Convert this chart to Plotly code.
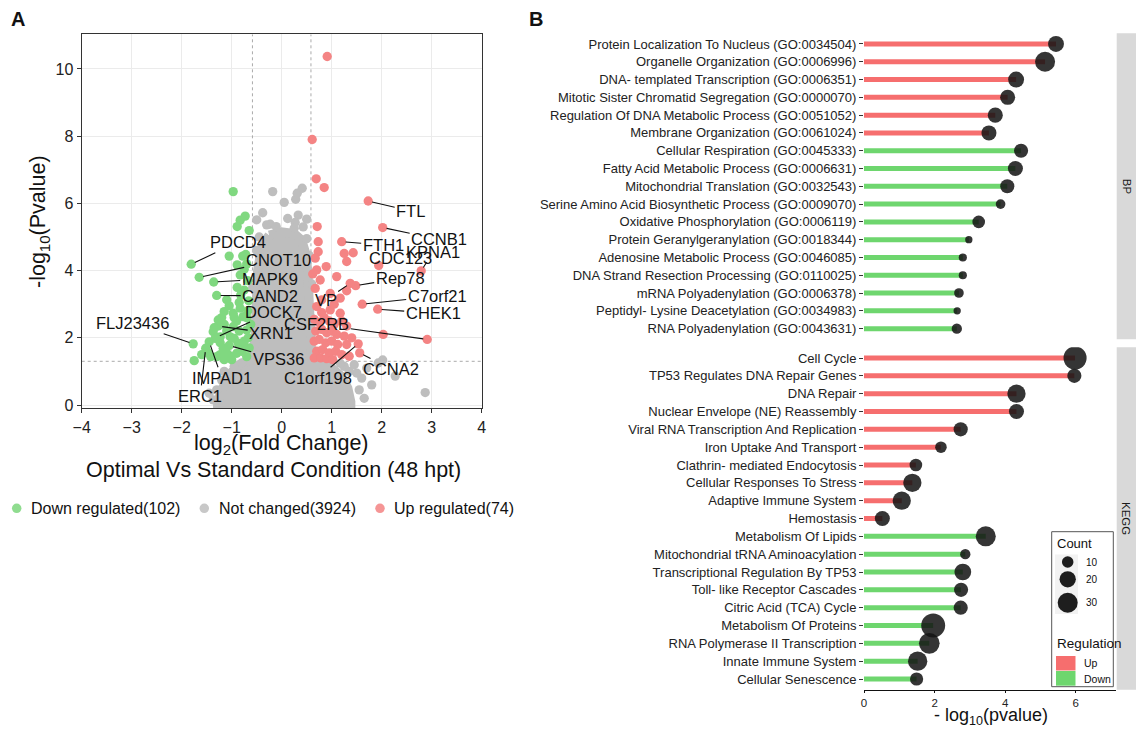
import math
import plotly.graph_objects as go

W, H = 1136, 730
FONT = "Liberation Sans, Arial, sans-serif"


def px(x):
    return x / W


def py(y):
    return 1 - y / H


# ---------------- Volcano data (panel A) ----------------
down_x = [-0.97, -0.73, -0.83, -0.89, -0.65, -1.05, -0.78, -0.89, -0.75, -0.72, -0.70,
          -1.81, -1.65, -1.36, -1.30,
          -0.83, -0.89, -0.75, -0.82, -1.10, -0.68, -0.66, -1.15, -0.97, -0.83, -0.70, -1.27, -1.05,
          -1.37, -1.27, -1.31, -1.23, -1.15, -1.10, -1.03, -0.97, -0.90, -0.85, -0.77, -0.70, -0.67,
          -0.75, -0.87, -0.95, -1.05, -1.17, -1.23, -1.45, -1.52, -1.47, -1.42, -1.30, -1.23, -1.10,
          -1.03, -0.90, -0.80, -0.70, -0.77, -0.65, -0.62, -0.95, -1.00, -1.15, -1.77, -1.75, -1.60,
          -0.68, -0.85, -1.20, -1.35, -1.33]
down_y = [6.35, 5.62, 5.50, 5.31, 5.19, 4.43, 4.43, 4.17, 4.04, 4.48, 4.20,
          4.19, 3.80, 3.66, 3.26,
          3.87, 3.50, 3.42, 3.27, 3.13, 3.70, 3.10, 2.78, 2.73, 2.88, 2.60, 2.53, 2.95,
          2.18, 2.35, 2.01, 2.03, 2.40, 2.20, 2.03, 2.33, 2.50, 2.20, 2.63, 2.23, 2.00,
          1.90, 1.84, 1.98, 1.77, 1.69, 1.85, 1.88, 1.69, 1.55, 1.44, 1.44, 1.50, 1.55,
          1.45, 1.54, 1.60, 1.44, 1.72, 1.70, 2.40, 2.60, 1.35, 1.35, 1.82, 1.32, 1.50,
          2.80, 3.05, 2.60, 2.30, 1.98]

up_x = [0.91, 0.61, 0.69, 0.85, 1.73, 2.02, 0.71, 0.73, 1.20, 1.43, 1.25, 1.30, 0.73, 0.67,
        0.89, 0.70, 1.10, 1.94, 2.79, 1.48, 1.37, 0.77, 0.67, 0.97, 1.17, 0.80, 1.61, 1.92,
        0.70, 0.97, 1.17, 2.03, 2.91, 1.53, 1.56,
        0.65, 0.75, 0.85, 0.95, 1.05, 1.20, 1.30, 0.68, 0.80, 0.90, 1.00, 1.10, 1.25, 0.65,
        0.75, 0.88, 1.00, 1.12, 1.30, 0.70, 0.82, 0.95, 1.08, 1.20, 0.65, 0.78, 0.90, 1.02,
        1.35, 1.40, 0.80, 1.05, 1.30, 0.62]
up_y = [10.37, 7.90, 6.73, 6.47, 6.07, 5.28, 5.31, 4.86, 4.86, 4.53, 4.51, 4.27, 4.56, 4.37,
        4.12, 4.02, 3.82, 4.15, 3.99, 3.55, 3.62, 3.72, 3.47, 3.32, 3.18, 3.13, 3.00, 2.85,
        2.93, 2.83, 2.73, 2.10, 1.95, 1.82, 1.55,
        2.55, 2.45, 2.60, 2.50, 2.40, 2.50, 2.35, 2.20, 2.25, 2.15, 2.20, 2.10, 2.05, 1.90,
        1.95, 1.85, 1.90, 1.80, 1.80, 1.60, 1.65, 1.55, 1.60, 1.50, 1.40, 1.40, 1.38, 1.35,
        1.45, 2.00, 2.75, 3.00, 3.40, 3.90]

# outline of the dense "not changed" cloud (marker centres along its edge)
core_x = [-0.25, 0.00, 0.25, 0.40, 0.48, 0.52, 0.55, 0.56, 0.60, 0.75, 1.00, 1.20, 1.32, 1.38,
          1.38, -1.28, -1.28, -1.18, -1.05, -0.85, -0.60, -0.53, -0.52, -0.48, -0.42, -0.35, -0.25]
core_y = [5.05, 5.15, 5.10, 4.90, 4.50, 4.00, 3.00, 2.00, 1.40, 1.25, 1.10, 0.85, 0.50, 0.10,
          0.00, 0.00, 0.10, 0.50, 0.90, 1.20, 1.35, 2.00, 3.00, 4.00, 4.50, 4.85, 5.05]

gray_x = [-0.18, 0.05, 0.28, 0.31, 0.41, -0.38, -0.50, -0.23, 0.33, 0.50, 0.27, -0.30, -0.11,
          0.25, 0.43, -0.45, 0.50, -0.50, 0.55, 0.12, 0.60, 0.58, -0.58, -0.55,
          2.87, 2.27, 2.02, 1.93, 1.70, 1.60, 1.55, 1.80, 1.45, 1.25, 1.50, 1.65, 1.17, 1.35,
          -1.20, -1.37, -1.03, -1.30, -0.95, -1.15, -1.45, -0.80]
gray_y = [6.35, 6.03, 6.12, 6.30, 6.45, 5.72, 5.51, 5.38, 5.65, 5.53, 5.43, 5.36, 5.31,
          5.26, 5.30, 5.00, 4.95, 4.60, 4.45, 5.55, 3.60, 2.60, 3.50, 2.50,
          0.37, 0.86, 1.34, 1.25, 1.10, 0.80, 0.45, 0.60, 1.20, 1.15, 0.95, 0.20, 1.24, 1.00,
          0.74, 0.15, 0.94, 0.45, 1.15, 1.00, 0.35, 1.25]

label_genes = ["FTL", "CCNB1", "FTH1", "KPNA1", "CDC123", "Rep78", "VP", "C7orf21", "CHEK1",
               "CSF2RB", "C1orf198", "CCNA2", "PDCD4", "CNOT10", "MAPK9", "CAND2", "DOCK7",
               "XRN1", "VPS36", "FLJ23436", "IMPAD1", "ERC1"]
label_px = [1.73, 2.02, 1.20, 2.79, 1.94, 1.48, 1.37, 1.61, 1.92, 2.91, 1.53, 1.56, -1.81,
            -1.65, -1.36, -1.30, -1.31, -1.27, -1.05, -1.77, -1.45, -1.52]
label_py = [6.07, 5.28, 4.86, 3.99, 4.15, 3.55, 3.62, 3.00, 2.85, 1.95, 1.82, 1.55, 4.19,
            3.80, 3.66, 3.26, 2.01, 2.35, 1.77, 1.82, 1.88, 1.69]

legend_labels = ["Down regulated(102)", "Not changed(3924)", "Up regulated(74)"]

# ---------------- Enrichment data (panel B) ----------------
bp_terms = ["Protein Localization To Nucleus (GO:0034504)",
            "Organelle Organization (GO:0006996)",
            "DNA- templated Transcription (GO:0006351)",
            "Mitotic Sister Chromatid Segregation (GO:0000070)",
            "Regulation Of DNA Metabolic Process (GO:0051052)",
            "Membrane Organization (GO:0061024)",
            "Cellular Respiration (GO:0045333)",
            "Fatty Acid Metabolic Process (GO:0006631)",
            "Mitochondrial Translation (GO:0032543)",
            "Serine Amino Acid Biosynthetic Process (GO:0009070)",
            "Oxidative Phosphorylation (GO:0006119)",
            "Protein Geranylgeranylation (GO:0018344)",
            "Adenosine Metabolic Process (GO:0046085)",
            "DNA Strand Resection Processing (GO:0110025)",
            "mRNA Polyadenylation (GO:0006378)",
            "Peptidyl- Lysine Deacetylation (GO:0034983)",
            "RNA Polyadenylation (GO:0043631)"]
bp_values = [5.44, 5.13, 4.31, 4.07, 3.72, 3.54, 4.45, 4.29, 4.06, 3.87, 3.25, 2.97, 2.80,
             2.80, 2.69, 2.64, 2.63]
bp_counts = [19, 30, 19, 17, 17, 17, 15, 17, 15, 7, 12, 4, 5, 5, 7, 4, 8]
bp_regulation = ["Up"] * 6 + ["Down"] * 11

kegg_terms = ["Cell Cycle", "TP53 Regulates DNA Repair Genes", "DNA Repair",
              "Nuclear Envelope (NE) Reassembly", "Viral RNA Transcription And Replication",
              "Iron Uptake And Transport", "Clathrin- mediated Endocytosis",
              "Cellular Responses To Stress", "Adaptive Immune System", "Hemostasis",
              "Metabolism Of Lipids", "Mitochondrial tRNA Aminoacylation",
              "Transcriptional Regulation By TP53", "Toll- like Receptor Cascades",
              "Citric Acid (TCA) Cycle", "Metabolism Of Proteins",
              "RNA Polymerase II Transcription", "Innate Immune System", "Cellular Senescence"]
kegg_values = [5.98, 5.96, 4.32, 4.32, 2.74, 2.18, 1.47, 1.37, 1.07, 0.52, 3.45, 2.87, 2.80,
               2.75, 2.74, 1.96, 1.85, 1.52, 1.49]
kegg_counts = [40, 15, 25, 17, 15, 10, 12, 25, 25, 17, 30, 8, 21, 15, 15, 43, 32, 28, 13]
kegg_regulation = ["Up"] * 10 + ["Down"] * 9

count_legend = [10, 20, 30]

# ---------------- styles ----------------
GREEN = "#80D880"
RED = "#F48484"
GRAY = "#BEBEBE"
LINE_UP = "#F66E6E"
LINE_DOWN = "#6ED66E"
DOT = "rgba(20,20,20,0.86)"
MS = 9.3


def dot_size(c):
    return 3.65 * math.sqrt(c)


fig = go.Figure()

# Volcano traces
fig.add_trace(go.Scatter(x=core_x, y=core_y, mode="lines", fill="toself", fillcolor=GRAY,
                         line=dict(color=GRAY, width=MS), hoverinfo="skip",
                         xaxis="x", yaxis="y"))
fig.add_trace(go.Scatter(x=gray_x, y=gray_y, mode="markers",
                         marker=dict(color=GRAY, size=MS, opacity=1, line=dict(width=0)),
                         xaxis="x", yaxis="y"))
fig.add_trace(go.Scatter(x=down_x, y=down_y, mode="markers",
                         marker=dict(color=GREEN, size=MS, opacity=1, line=dict(width=0)),
                         xaxis="x", yaxis="y"))
fig.add_trace(go.Scatter(x=up_x, y=up_y, mode="markers",
                         marker=dict(color=RED, size=MS, opacity=1, line=dict(width=0)),
                         xaxis="x", yaxis="y"))


def lollipop(values, regs, counts, xa, ya):
    for reg, col in (("Up", LINE_UP), ("Down", LINE_DOWN)):
        xs, ys = [], []
        for i, (v, r) in enumerate(zip(values, regs)):
            if r == reg:
                xs += [0, v, None]
                ys += [i + 1, i + 1, None]
        fig.add_trace(go.Scatter(x=xs, y=ys, mode="lines", line=dict(color=col, width=5),
                                 xaxis=xa, yaxis=ya, hoverinfo="skip"))
    fig.add_trace(go.Scatter(x=values, y=list(range(1, len(values) + 1)), mode="markers",
                             marker=dict(color=DOT, opacity=1,
                                         size=[dot_size(c) for c in counts],
                                         line=dict(width=0)),
                             xaxis=xa, yaxis=ya))


lollipop(bp_values, bp_regulation, bp_counts, "x2", "y2")
lollipop(kegg_values, kegg_regulation, kegg_counts, "x3", "y3")

# ---------------- layout ----------------
tickfont_a = dict(family=FONT, size=16, color="#222")
tickfont_b = dict(family=FONT, size=13, color="#222")

layout = dict(
    width=W, height=H, autosize=False, showlegend=False,
    margin=dict(l=0, r=0, t=0, b=0, pad=0, autoexpand=False),
    paper_bgcolor="white", plot_bgcolor="white",
    font=dict(family=FONT, color="#111"),
    xaxis=dict(domain=[px(81.7), px(481.7)], range=[-4, 4], anchor="y", automargin=False,
               tickvals=[-4, -3, -2, -1, 0, 1, 2, 3, 4], ticks="outside", ticklen=4,
               tickcolor="#333", showgrid=True, gridcolor="#EBEBEB", gridwidth=1,
               zeroline=False, showline=True, linecolor="#333", linewidth=1.2, mirror=True,
               tickfont=tickfont_a),
    yaxis=dict(domain=[py(408.3), py(34.3)], range=[-0.098, 11.03], anchor="x",
               automargin=False,
               tickvals=[0, 2, 4, 6, 8, 10], ticks="outside", ticklen=4, tickcolor="#333",
               showgrid=True, gridcolor="#EBEBEB", gridwidth=1, zeroline=False,
               showline=True, linecolor="#333", linewidth=1.2, mirror=True,
               tickfont=tickfont_a),
    xaxis2=dict(domain=[px(864), px(1116)], range=[0, 7.14], anchor="y2", automargin=False,
                showticklabels=False, showgrid=False, zeroline=False, showline=False),
    yaxis2=dict(domain=[py(339.3), py(33.3)], range=[17.6, 0.4], anchor="x2",
                automargin=False,
                tickvals=list(range(1, len(bp_terms) + 1)), ticktext=bp_terms,
                ticks="outside", ticklen=4, tickcolor="#333", showgrid=False,
                zeroline=False, showline=False, tickfont=tickfont_b),
    xaxis3=dict(domain=[px(864), px(1116)], range=[0, 7.14], anchor="y3", automargin=False,
                tickvals=[0, 2, 4, 6], ticks="outside", ticklen=2, tickcolor="#111",
                showgrid=False, zeroline=False, showline=True, linecolor="#111",
                linewidth=1.2, tickfont=dict(family=FONT, size=11.5, color="#222")),
    yaxis3=dict(domain=[py(689.7), py(347.3)], range=[19.6, 0.4], anchor="x3",
                automargin=False,
                tickvals=list(range(1, len(kegg_terms) + 1)), ticktext=kegg_terms,
                ticks="outside", ticklen=4, tickcolor="#333", showgrid=False,
                zeroline=False, showline=False, tickfont=tickfont_b),
)
fig.update_layout(**layout)

shapes = []
# threshold lines
for xv in (-0.585, 0.585):
    shapes.append(dict(type="line", xref="x", yref="y", x0=xv, x1=xv, y0=-0.098, y1=11.03,
                       line=dict(color="#A0A0A0", width=0.9, dash="dot"), layer="between"))
shapes.append(dict(type="line", xref="x", yref="y", x0=-4, x1=4, y0=1.3, y1=1.3,
                   line=dict(color="#A0A0A0", width=0.9, dash="dot"), layer="between"))


def circ(cx, cy, d, color):
    return dict(type="circle", xref="paper", yref="paper",
                x0=px(cx - d / 2), x1=px(cx + d / 2), y0=py(cy + d / 2), y1=py(cy - d / 2),
                fillcolor=color, line=dict(width=0), layer="above")


def rect(x0, y0, x1, y1, fill, line=None):
    return dict(type="rect", xref="paper", yref="paper", x0=px(x0), x1=px(x1),
                y0=py(y1), y1=py(y0), fillcolor=fill,
                line=line if line else dict(width=0), layer="above")


# strips
shapes.append(rect(1116.7, 33.3, 1136, 339.3, "#D9D9D9"))
shapes.append(rect(1116.7, 347.3, 1136, 689.7, "#D9D9D9"))
# panel B legend box
shapes.append(rect(1051.7, 531.7, 1113.3, 686.7, "white", dict(color="#555", width=1)))
shapes.append(rect(1055, 554.5, 1078, 614, "#F2F2F2"))
for c, yy in zip(count_legend, (562, 579.3, 602.7)):
    shapes.append(circ(1067.7, yy, dot_size(c), "rgb(30,30,30)"))
shapes.append(rect(1056, 656, 1075.5, 670.5, LINE_UP))
shapes.append(rect(1056, 671, 1075.5, 685.7, LINE_DOWN))
# panel A legend dots
for cx, col in zip((16.7, 204.3, 380), ("#8FDC8F", "#C8C8C8", "#F59595")):
    shapes.append(circ(cx, 508.3, 9.5, col))

fig.update_layout(shapes=shapes)

ann = []


def txt(x, y, s, size, xanchor="center", angle=0, color="#111"):
    ann.append(dict(x=px(x), y=py(y), xref="paper", yref="paper", text=s, showarrow=False,
                    xanchor=xanchor, yanchor="middle", textangle=angle,
                    font=dict(family=FONT, size=size, color=color)))


txt(17.5, 19, "<b>A</b>", 20)
txt(535.5, 19, "<b>B</b>", 20)
txt(40, 222, "-log<sub>10</sub>(Pvalue)", 21.5, angle=-90)
txt(281, 444, "log<sub>2</sub>(Fold Change)", 21.5)
txt(273, 470, "Optimal Vs Standard Condition (48 hpt)", 21.5)
for xx, s in zip((29.3, 216.7, 391.7), legend_labels):
    txt(xx, 508, s, 16, xanchor="left")
txt(990.8, 716, "- log<sub>10</sub>(pvalue)", 18)
txt(1126.5, 186.3, "BP", 11.5, angle=90, color="#1A1A1A")
txt(1126.5, 518.5, "KEGG", 11.5, angle=90, color="#1A1A1A")
txt(1055, 543, "Count", 13, xanchor="left")
for c, yy in zip(count_legend, (562, 579.3, 602.7)):
    txt(1084, yy, str(c), 10, xanchor="left")
txt(1055, 643, "Regulation", 13.5, xanchor="left")
txt(1082, 663, "Up", 10.5, xanchor="left")
txt(1082, 678.5, "Down", 10.5, xanchor="left")

# gene labels (text positions in data units)
label_pos = {
    "FTL": (2.58, 5.77), "CCNB1": (3.15, 4.93), "FTH1": (2.03, 4.76), "KPNA1": (3.03, 4.56),
    "CDC123": (2.37, 4.37), "Rep78": (2.37, 3.77), "VP": (0.88, 3.12),
    "C7orf21": (3.11, 3.24), "CHEK1": (3.03, 2.73), "CSF2RB": (0.70, 2.41),
    "C1orf198": (0.73, 0.81), "CCNA2": (2.18, 1.07), "PDCD4": (-0.88, 4.84),
    "CNOT10": (-0.07, 4.32), "MAPK9": (-0.24, 3.75), "CAND2": (-0.23, 3.25),
    "DOCK7": (-0.17, 2.78), "XRN1": (-0.21, 2.13), "VPS36": (-0.07, 1.36),
    "FLJ23436": (-2.98, 2.43), "IMPAD1": (-1.20, 0.81), "ERC1": (-1.63, 0.27),
}
for g, gx, gy in zip(label_genes, label_px, label_py):
    tx, ty = label_pos[g]
    ann.append(dict(x=gx, y=gy, xref="x", yref="y", ax=tx, ay=ty, axref="x", ayref="y",
                    text=g, showarrow=True, arrowhead=0, arrowwidth=1.1,
                    arrowcolor="#111", standoff=4,
                    font=dict(family=FONT, size=16.5, color="#111")))

fig.update_layout(annotations=ann)

# remove the browser's default 8px page margin so the figure sits at the window origin
fig.write_html("out.html",
               config={"displayModeBar": False, "staticPlot": False},
               post_script="document.body.style.margin='0';document.body.style.padding='0';"
                           "document.body.style.overflow='hidden';")
